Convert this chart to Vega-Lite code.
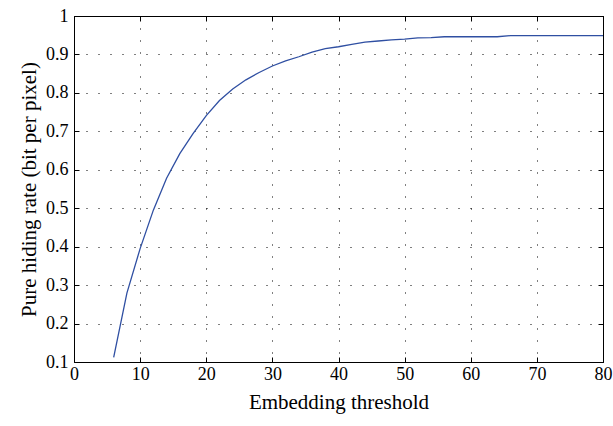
{
  "$schema": "https://vega.github.io/schema/vega-lite/v6.json",
  "autosize": "none",
  "padding": {"left": 74, "top": 16, "right": 10, "bottom": 64},
  "width": 529,
  "height": 346,
  "config": {
    "view": {"stroke": "#000000", "strokeWidth": 1},
    "font": "Liberation Serif",
    "axis": {
      "labelFont": "Liberation Serif",
      "titleFont": "Liberation Serif",
      "labelFontSize": 18,
      "titleFontSize": 21,
      "titleFontWeight": "normal",
      "labelColor": "#000000",
      "titleColor": "#000000",
      "domain": false,
      "tickColor": "#000000",
      "tickSize": -5,
      "tickWidth": 1,
      "gridColor": "#000000",
      "gridDash": [1, 11],
      "gridWidth": 1,
      "gridOpacity": 1
    }
  },
  "data": {
    "values": [
      {"t": 6, "r": 0.112},
      {"t": 8, "r": 0.279},
      {"t": 10, "r": 0.395},
      {"t": 12, "r": 0.495},
      {"t": 14, "r": 0.578},
      {"t": 16, "r": 0.642},
      {"t": 18, "r": 0.694},
      {"t": 20, "r": 0.741},
      {"t": 22, "r": 0.780},
      {"t": 24, "r": 0.810},
      {"t": 26, "r": 0.834},
      {"t": 28, "r": 0.853},
      {"t": 30, "r": 0.870},
      {"t": 32, "r": 0.883},
      {"t": 34, "r": 0.894},
      {"t": 36, "r": 0.906},
      {"t": 38, "r": 0.915},
      {"t": 40, "r": 0.920},
      {"t": 42, "r": 0.926},
      {"t": 44, "r": 0.932},
      {"t": 46, "r": 0.935},
      {"t": 48, "r": 0.938},
      {"t": 50, "r": 0.940},
      {"t": 52, "r": 0.943},
      {"t": 54, "r": 0.944},
      {"t": 56, "r": 0.946},
      {"t": 58, "r": 0.946},
      {"t": 60, "r": 0.946},
      {"t": 62, "r": 0.946},
      {"t": 64, "r": 0.946},
      {"t": 66, "r": 0.949},
      {"t": 68, "r": 0.949},
      {"t": 70, "r": 0.949},
      {"t": 72, "r": 0.949},
      {"t": 74, "r": 0.949},
      {"t": 76, "r": 0.949},
      {"t": 78, "r": 0.949},
      {"t": 80, "r": 0.949}
    ]
  },
  "layer": [
    {
      "mark": {"type": "line", "color": "#2f4fa2", "strokeWidth": 1.3, "clip": true},
      "encoding": {
        "x": {
          "field": "t", "type": "quantitative",
          "scale": {"domain": [0, 80], "nice": false, "zero": false},
          "axis": {"orient": "bottom", "values": [0,10,20,30,40,50,60,70,80], "title": "Embedding threshold", "titlePadding": 8, "labelPadding": 8, "labelFlush": false}
        },
        "y": {
          "field": "r", "type": "quantitative",
          "scale": {"domain": [0.1, 1], "nice": false, "zero": false},
          "axis": {"orient": "left", "values": [0.1,0.2,0.3,0.4,0.5,0.6,0.7,0.8,0.9,1], "format": "~g", "title": "Pure hiding rate (bit per pixel)", "titlePadding": 6, "labelPadding": 11, "labelFlush": false}
        }
      }
    },
    {
      "mark": {"type": "line", "opacity": 0},
      "encoding": {
        "x": {
          "field": "t", "type": "quantitative",
          "scale": {"domain": [0, 80], "nice": false, "zero": false},
          "axis": {"orient": "top", "values": [0,10,20,30,40,50,60,70,80], "labels": false, "title": null, "grid": false}
        },
        "y": {
          "field": "r", "type": "quantitative",
          "scale": {"domain": [0.1, 1], "nice": false, "zero": false},
          "axis": {"orient": "right", "values": [0.1,0.2,0.3,0.4,0.5,0.6,0.7,0.8,0.9,1], "labels": false, "title": null, "grid": false}
        }
      }
    }
  ],
  "resolve": {"axis": {"x": "independent", "y": "independent"}}
}
